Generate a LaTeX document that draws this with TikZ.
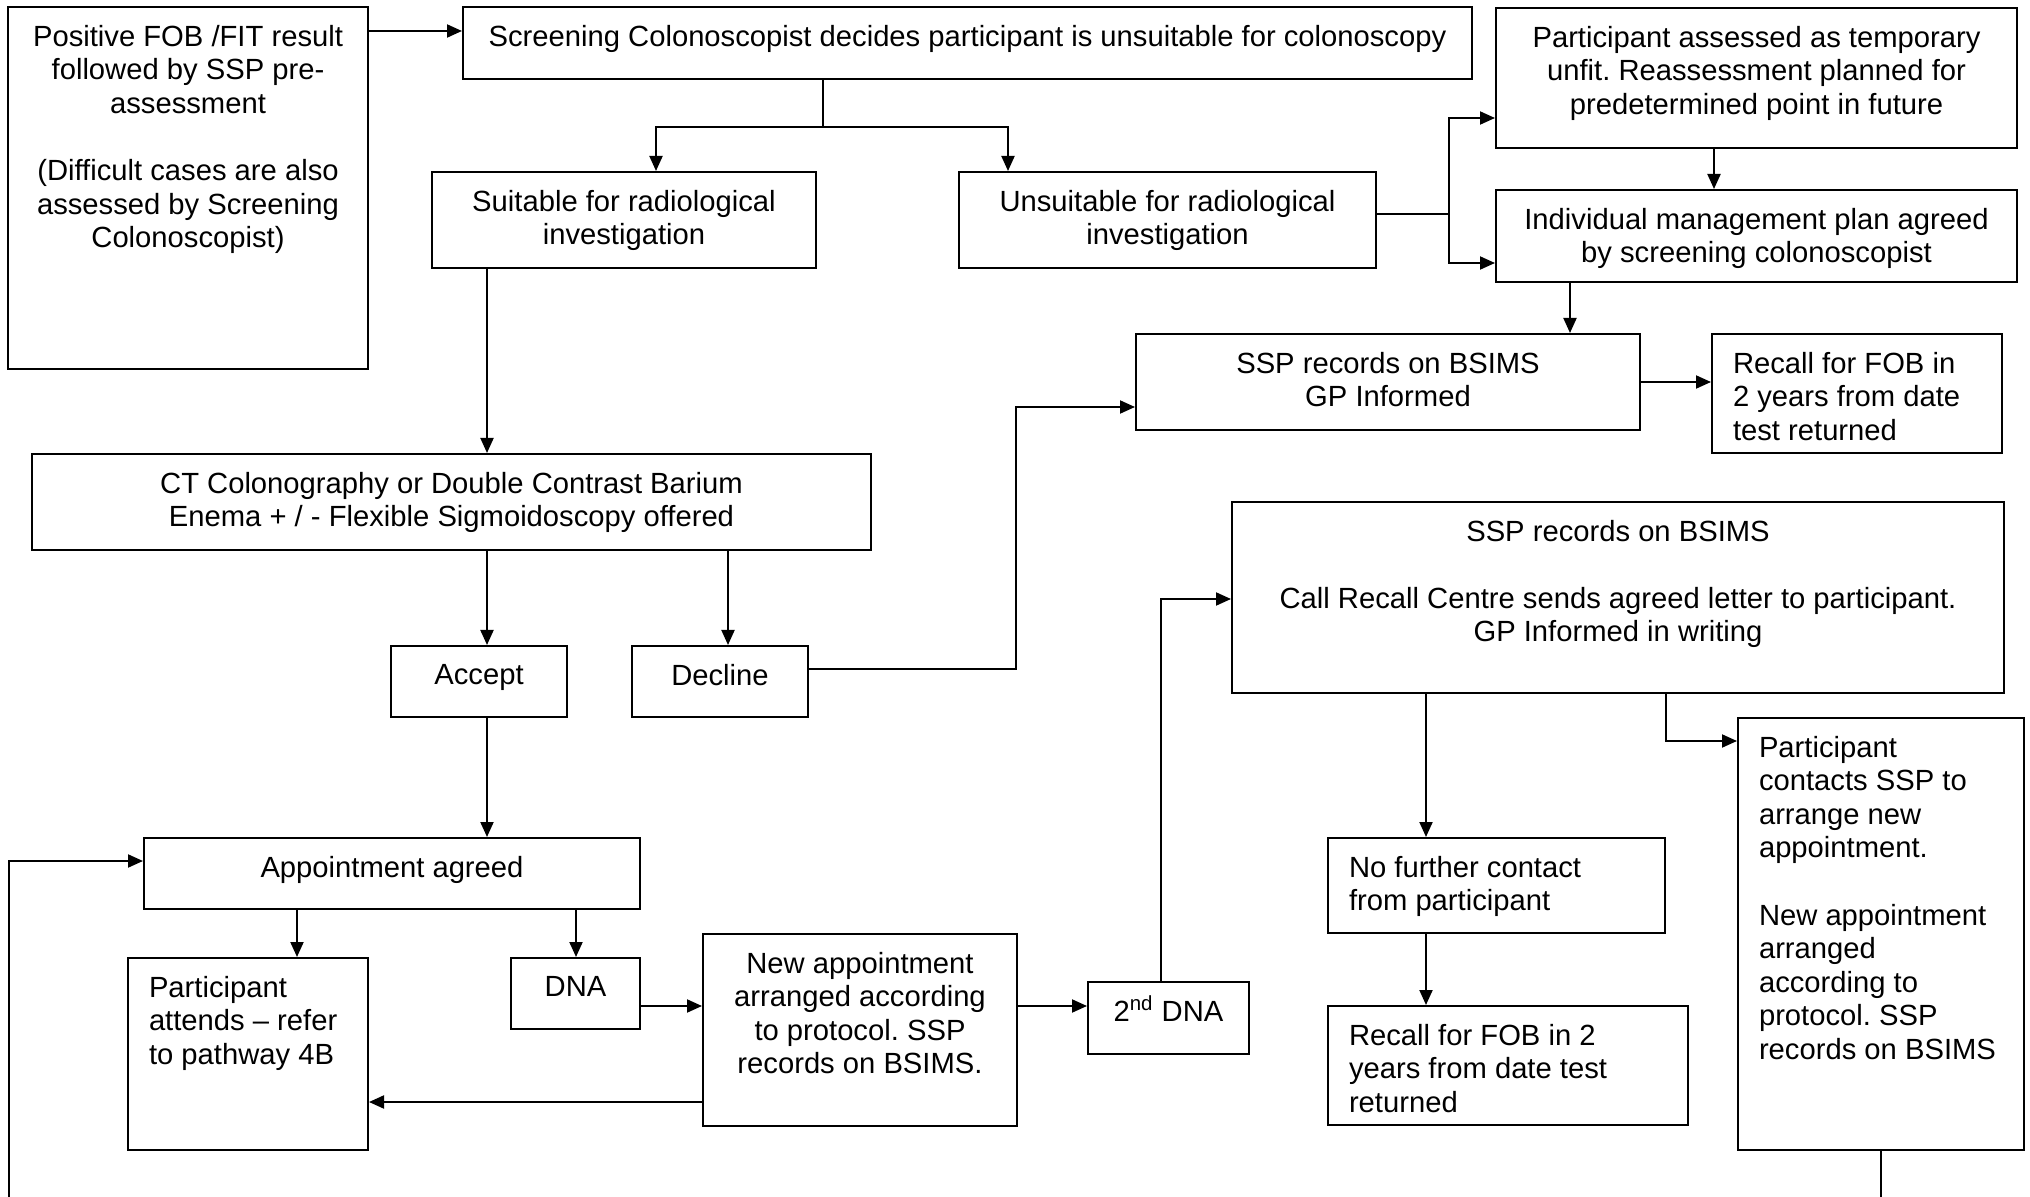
\documentclass[tikz,border=0pt]{standalone}
\usepackage{fontspec}
\setmainfont{Liberation Sans}
\usetikzlibrary{arrows.meta,fit}
\frenchspacing

\begin{document}
\begin{tikzpicture}[x=0.5pt,y=-0.5pt,line width=1pt,
  font=\fontsize{14.6}{16.8}\selectfont,
  box/.style={draw,inner sep=0pt},
  ctext/.style={anchor=north,align=center,inner sep=0pt},
  ltext/.style={anchor=north west,align=left,inner sep=0pt},
  arr/.style={-{Triangle[length=7.5pt,width=6.5pt]}}]

\useasboundingbox (0,0) rectangle (2030,1197);

% boxes
\node[box,fit={(8,7) (368,369)}] (pos) {};
\node[box,fit={(463,7) (1472,79)}] (screen) {};
\node[box,fit={(432,172) (816,268)}] (suit) {};
\node[box,fit={(959,172) (1376,268)}] (unsuit) {};
\node[box,fit={(1496,8) (2017,148)}] (temp) {};
\node[box,fit={(1496,190) (2017,282)}] (plan) {};
\node[box,fit={(1136,334) (1640,430)}] (gpinf) {};
\node[box,fit={(1712,334) (2002,453)}] (recall1) {};
\node[box,fit={(32,454) (871,550)}] (ct) {};
\node[box,fit={(391,646) (567,717)}] (accept) {};
\node[box,fit={(632,646) (808,717)}] (decline) {};
\node[box,fit={(1232,502) (2004,693)}] (callrec) {};
\node[box,fit={(144,838) (640,909)}] (appt) {};
\node[box,fit={(128,958) (368,1150)}] (attend) {};
\node[box,fit={(511,958) (640,1029)}] (dna) {};
\node[box,fit={(703,934) (1017,1126)}] (newappt) {};
\node[box,fit={(1088,982) (1249,1054)}] (dna2) {};
\node[box,fit={(1328,838) (1665,933)}] (nocontact) {};
\node[box,fit={(1328,1006) (1688,1125)}] (recall2) {};
\node[box,fit={(1738,718) (2024,1150)}] (contact) {};

% texts
\node[ctext] (pos-t) at ([yshift=-9pt]pos.north) {Positive FOB /FIT result\\followed by SSP pre-\\assessment\\[16.8pt](Difficult cases are also\\assessed by Screening\\Colonoscopist)};
\node[ctext] (screen-t) at ([yshift=-9pt]screen.north) {Screening Colonoscopist decides participant is unsuitable for colonoscopy};
\node[ctext] (suit-t) at ([yshift=-9pt]suit.north) {Suitable for radiological\\investigation};
\node[ctext] (unsuit-t) at ([yshift=-9pt]unsuit.north) {Unsuitable for radiological\\investigation};
\node[ctext] (temp-t) at ([yshift=-9pt]temp.north) {Participant assessed as temporary\\unfit. Reassessment planned for\\predetermined point in future};
\node[ctext] (plan-t) at ([yshift=-9pt]plan.north) {Individual management plan agreed\\by screening colonoscopist};
\node[ctext] (gpinf-t) at ([yshift=-9pt]gpinf.north) {SSP records on BSIMS\\GP Informed};
\node[ltext] (recall1-t) at ([xshift=10.5pt,yshift=-9pt]recall1.north west) {Recall for FOB in\\2 years from date\\test returned};
\node[ctext] (ct-t) at ([yshift=-9pt]ct.north) {CT Colonography or Double Contrast Barium\\Enema + / - Flexible Sigmoidoscopy offered};
\node[ctext] (accept-t) at ([yshift=-9pt]accept.north) {Accept};
\node[ctext] (decline-t) at ([yshift=-9pt]decline.north) {Decline};
\node[ctext] (callrec-t) at ([yshift=-9pt]callrec.north) {SSP records on BSIMS\\[16.8pt]Call Recall Centre sends agreed letter to participant.\\GP Informed in writing};
\node[ctext] (appt-t) at ([yshift=-9pt]appt.north) {Appointment agreed};
\node[ltext] (attend-t) at ([xshift=10.5pt,yshift=-9pt]attend.north west) {Participant\\attends – refer\\to pathway 4B};
\node[ctext] (dna-t) at ([yshift=-9pt]dna.north) {DNA};
\node[ctext] (newappt-t) at ([yshift=-9pt]newappt.north) {New appointment\\arranged according\\to protocol. SSP\\records on BSIMS.};
\node[ctext] (dna2-t) at ([yshift=-7pt]dna2.north) {2\textsuperscript{nd} DNA};
\node[ltext] (nocontact-t) at ([xshift=10.5pt,yshift=-9pt]nocontact.north west) {No further contact\\from participant};
\node[ltext] (recall2-t) at ([xshift=10.5pt,yshift=-9pt]recall2.north west) {Recall for FOB in 2\\years from date test\\returned};
\node[ltext] (contact-t) at ([xshift=10.5pt,yshift=-9pt]contact.north west) {Participant\\contacts SSP to\\arrange new\\appointment.\\[16.8pt]New appointment\\arranged\\according to\\protocol. SSP\\records on BSIMS};

% connectors
\draw[arr] (pos.east |- 0,31) -- (screen.west |- 0,31);
\draw (screen.south -| 823,0) -- (823,127) coordinate (split);
\draw[arr] (split) -| (suit.north -| 656,0);
\draw[arr] (split) -| (unsuit.north -| 1008,0);
\draw (unsuit.east |- 0,214) -- (1449,214) coordinate (fork);
\draw[arr] (fork) |- (temp.west |- 0,118);
\draw[arr] (fork) |- (plan.west |- 0,263);
\draw[arr] (temp.south -| 1714,0) -- (plan.north -| 1714,0);
\draw[arr] (plan.south -| 1570,0) -- (gpinf.north -| 1570,0);
\draw[arr] (gpinf.east |- 0,382) -- (recall1.west |- 0,382);
\draw[arr] (suit.south -| 487,0) -- (ct.north -| 487,0);
\draw[arr] (ct.south -| 487,0) -- (accept.north -| 487,0);
\draw[arr] (ct.south -| 728,0) -- (decline.north -| 728,0);
\draw[arr] (decline.east |- 0,669) -| (1016,407) -- (gpinf.west |- 0,407);
\draw[arr] (accept.south -| 487,0) -- (appt.north -| 487,0);
\draw[arr] (appt.south -| 297,0) -- (attend.north -| 297,0);
\draw[arr] (appt.south -| 576,0) -- (dna.north -| 576,0);
\draw[arr] (dna.east |- 0,1006) -- (newappt.west |- 0,1006);
\draw[arr] (newappt.east |- 0,1006) -- (dna2.west |- 0,1006);
\draw[arr] (newappt.west |- 0,1102) -- (attend.east |- 0,1102);
\draw[arr] (dna2.north -| 1161,0) |- (callrec.west |- 0,599);
\draw[arr] (callrec.south -| 1426,0) -- (nocontact.north -| 1426,0);
\draw[arr] (nocontact.south -| 1426,0) -- (recall2.north -| 1426,0);
\draw[arr] (callrec.south -| 1666,0) |- (contact.west |- 0,741);
\coordinate (offl) at (9,1197);
\coordinate (offr) at (1881,1197);
\draw[arr] (offl) |- (appt.west |- 0,861);
\draw (contact.south -| offr) -- (offr);

\end{tikzpicture}
\end{document}
